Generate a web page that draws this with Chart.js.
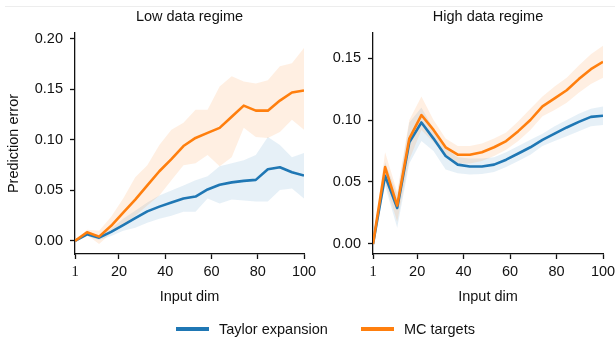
<!DOCTYPE html>
<html>
<head>
<meta charset="utf-8">
<script src="https://cdn.jsdelivr.net/npm/chart.js@4.4.0/dist/chart.umd.min.js"></script>
<style>
  body { margin: 0; background: #fff; font-family: "Liberation Sans", Arial, sans-serif; }
  #wrap { position: relative; width: 615px; height: 337px; overflow: hidden; }
  #wrap canvas { position: absolute; left: 0; top: 0; }
  .rule { position: absolute; left: 5px; right: 0; top: 6px; border-top: 1px solid #ededed; }
  .legend { position: absolute; top: 320px; height: 18px; font-size: 14.5px; color: #111; display: flex; align-items: center; }
  .swatch { display: inline-block; width: 33px; height: 3.5px; margin-right: 10px; }
</style>
</head>
<body>
<div id="wrap">
  <div class="rule"></div>
  <canvas id="low" width="615" height="337"></canvas>
  <canvas id="high" width="615" height="337"></canvas>
  <div class="legend" style="left:176px"><span class="swatch" style="background:#1f77b4"></span>Taylor expansion</div>
  <div class="legend" style="left:361px"><span class="swatch" style="background:#ff7f0e"></span>MC targets</div>
</div>
<script>
// input dims (20 points from 1 to 100)
const dims = [1, 6.21, 11.42, 16.63, 21.84, 27.05, 32.26, 37.47, 42.68, 47.89,
              53.11, 58.32, 63.53, 68.74, 73.95, 79.16, 84.37, 89.58, 94.79, 100];
const xTicks = [1, 20, 40, 60, 80, 100];

// low data regime
const lowTaylor   = [0, 0.0066, 0.0033, 0.009, 0.0156, 0.0225, 0.0293, 0.034, 0.038, 0.042,
                     0.044, 0.051, 0.0557, 0.058, 0.0595, 0.0605, 0.071, 0.073, 0.068, 0.0647];
const lowTaylorHi = [0, 0.008, 0.006, 0.012, 0.022, 0.03, 0.038, 0.045, 0.05, 0.055,
                     0.06, 0.064, 0.074, 0.077, 0.08, 0.085, 0.103, 0.095, 0.083, 0.087];
const lowTaylorLo = [0, 0.005, 0.001, 0.005, 0.01, 0.013, 0.018, 0.022, 0.025, 0.029,
                     0.029, 0.042, 0.037, 0.041, 0.04, 0.039, 0.039, 0.0505, 0.052, 0.042];
const lowMC       = [0, 0.0086, 0.0043, 0.015, 0.028, 0.041, 0.055, 0.069, 0.081, 0.094,
                     0.102, 0.107, 0.112, 0.123, 0.134, 0.129, 0.129, 0.139, 0.147, 0.149];
const lowMCHi     = [0, 0.011, 0.01, 0.024, 0.042, 0.063, 0.075, 0.095, 0.11, 0.117,
                     0.13, 0.13, 0.153, 0.163, 0.158, 0.156, 0.159, 0.173, 0.176, 0.191];
const lowMCLo     = [0, 0.006, -0.003, 0.008, 0.016, 0.025, 0.035, 0.045, 0.06, 0.075,
                     0.077, 0.085, 0.074, 0.083, 0.112, 0.103, 0.102, 0.108, 0.12, 0.11];
const lowYTicks = [0, 0.05, 0.1, 0.15, 0.2];

// high data regime
const highTaylor   = [0, 0.055, 0.029, 0.082, 0.098, 0.085, 0.071, 0.064, 0.0625, 0.0625,
                      0.064, 0.068, 0.073, 0.078, 0.084, 0.089, 0.094, 0.0985, 0.1025, 0.1035];
const highTaylorHi = [0, 0.066, 0.04, 0.098, 0.11, 0.093, 0.077, 0.07, 0.069, 0.069,
                      0.07, 0.074, 0.079, 0.084, 0.089, 0.095, 0.1, 0.105, 0.109, 0.111];
const highTaylorLo = [0, 0.047, 0.013, 0.065, 0.083, 0.075, 0.06, 0.057, 0.056, 0.0565,
                      0.058, 0.062, 0.067, 0.072, 0.079, 0.083, 0.087, 0.091, 0.095, 0.096];
const highMC       = [0, 0.062, 0.031, 0.085, 0.104, 0.092, 0.078, 0.072, 0.072, 0.074,
                      0.078, 0.083, 0.091, 0.1, 0.111, 0.1175, 0.124, 0.133, 0.141, 0.147];
const highMCHi     = [0, 0.074, 0.042, 0.1, 0.119, 0.1, 0.085, 0.079, 0.079, 0.081,
                      0.085, 0.09, 0.099, 0.109, 0.119, 0.127, 0.134, 0.144, 0.153, 0.16];
const highMCLo     = [0, 0.05, 0.018, 0.068, 0.092, 0.082, 0.072, 0.065, 0.065, 0.067,
                      0.071, 0.076, 0.083, 0.092, 0.103, 0.108, 0.114, 0.122, 0.129, 0.134];
const highYTicks = [0, 0.05, 0.1, 0.15];

const BLUE = '#1f77b4';
const ORANGE = '#ff7f0e';
const INK = '#111';
const FONT = '"Liberation Sans", Arial, sans-serif';
const FS = 14.5;

function pts(ys) {
  return ys.map((y, i) => ({ x: dims[i], y: y }));
}

function band(ys, color, fill, order) {
  return { data: pts(ys), borderWidth: 0, pointRadius: 0, fill: fill,
           backgroundColor: color, order: order };
}

function line(ys, color, order) {
  return { data: pts(ys), borderColor: color, borderWidth: 2.6, pointRadius: 0,
           fill: false, borderJoinStyle: 'round', order: order };
}

function panel(id, title, s, yRange, yTicks, padding, yWidth, yLabel) {
  new Chart(document.getElementById(id), {
    type: 'line',
    data: {
      datasets: [
        band(s[1], 'rgba(31,119,180,0.11)', '+1', 4),
        band(s[2], 'rgba(0,0,0,0)', false, 4),
        band(s[4], 'rgba(255,127,14,0.12)', '+1', 3),
        band(s[5], 'rgba(0,0,0,0)', false, 3),
        line(s[0], BLUE, 1),
        line(s[3], ORANGE, 0)
      ]
    },
    options: {
      responsive: false,
      animation: false,
      layout: { padding: padding },
      plugins: {
        legend: { display: false },
        tooltip: { enabled: false },
        title: { display: true, text: title, fullSize: false, color: INK,
                 font: { family: FONT, size: FS, weight: 'normal' },
                 padding: { top: 8, bottom: 7.6 } }
      },
      scales: {
        x: {
          type: 'linear', min: 1, max: 100,
          afterBuildTicks: sc => { sc.ticks = xTicks.map(v => ({ value: v })); },
          afterFit: sc => { sc.height = 52; sc.paddingLeft = 0; sc.paddingRight = 0; },
          grid: { drawOnChartArea: false, tickLength: 5, tickWidth: 1.3, tickColor: INK },
          border: { color: INK, width: 1.3 },
          ticks: {
            color: INK, padding: 4, maxRotation: 0, autoSkip: false,
            callback: v => String(v),
            font: ctx => ({ family: ctx.tick && ctx.tick.value === 1 ? '"Liberation Serif", serif' : FONT, size: FS })
          },
          title: { display: true, text: 'Input dim', color: INK,
                   font: { family: FONT, size: FS }, padding: 0 }
        },
        y: {
          min: yRange[0], max: yRange[1],
          afterBuildTicks: sc => { sc.ticks = yTicks.map(v => ({ value: v })); },
          afterFit: sc => { sc.width = yWidth; },
          grid: { drawOnChartArea: false, tickLength: 5, tickWidth: 1.3, tickColor: INK },
          border: { color: INK, width: 1.3 },
          ticks: { color: INK, padding: 7, callback: v => v.toFixed(2),
                   font: { family: FONT, size: FS } },
          title: { display: yLabel, text: 'Prediction error', color: INK,
                   font: { family: FONT, size: FS }, padding: { top: 5, bottom: 0 } }
        }
      }
    }
  });
}

panel('low', 'Low data regime',
      [lowTaylor, lowTaylorHi, lowTaylorLo, lowMC, lowMCHi, lowMCLo],
      [-0.0129, 0.2059], lowYTicks,
      { left: 0, right: 311, top: 0, bottom: 31 }, 75, true);

panel('high', 'High data regime',
      [highTaylor, highTaylorHi, highTaylorLo, highMC, highMCHi, highMCLo],
      [-0.0081, 0.1702], highYTicks,
      { left: 310, right: 12, top: 0, bottom: 31 }, 63, false);
</script>
</body>
</html>
